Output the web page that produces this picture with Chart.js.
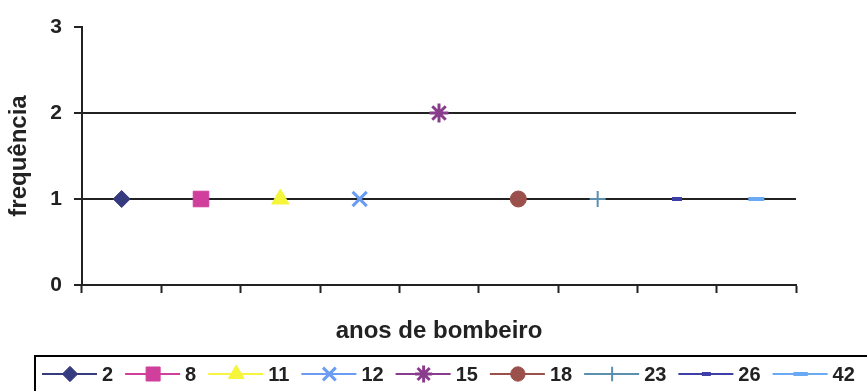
<!DOCTYPE html>
<html>
<head>
<meta charset="utf-8">
<script src="https://cdn.jsdelivr.net/npm/chart.js@4/dist/chart.umd.min.js"></script>
<style>
  html, body { margin: 0; padding: 0; background: #fff; }
  #wrap { width: 867px; height: 391px; }
</style>
</head>
<body>
<div id="wrap"><canvas id="chart" width="867" height="391"></canvas></div>
<script>
  // anos de bombeiro (uma série por valor) e frequência
  const seriesNames = ['2', '8', '11', '12', '15', '18', '23', '26', '42'];
  const frequencies = [1, 1, 1, 1, 2, 1, 1, 1, 1];
  const yTicks = [0, 1, 2, 3];

  const colors = ['#353b7e', '#d13f9c', '#f5f53c', '#6b9cf2', '#8a3c8c', '#9c504c', '#5b8fae', '#3e3ea8', '#6aaaf5'];
  const styles = ['rectRot', 'rect', 'triangle', 'crossRot', 'star', 'circle', 'cross', 'line', 'line'];
  const radii = [8.5, 11, 10, 10, 9.5, 8, 8, 5, 8];
  const borderWidths = [1, 1, 1, 3, 3, 1, 2, 4, 4];

  const FONT = '"Liberation Sans", Arial, sans-serif';

  const datasets = seriesNames.map((name, i) => ({
    label: name,
    data: seriesNames.map((_, j) => (j === i ? frequencies[i] : null)),
    borderColor: colors[i],
    backgroundColor: colors[i],
    pointStyle: styles[i],
    pointRadius: radii[i],
    pointHoverRadius: radii[i],
    pointBorderWidth: borderWidths[i],
    showLine: false
  }));

  // legenda desenhada à mão: linha + marcador, numa caixa
  const boxLegend = {
    id: 'boxLegend',
    afterDraw(chart) {
      const ctx = chart.ctx;
      ctx.save();
      ctx.strokeStyle = '#000';
      ctx.lineWidth = 2;
      ctx.strokeRect(35, 356, 900, 60);
      ctx.font = 'bold 20px ' + FONT;
      ctx.textBaseline = 'middle';
      let x = 42;
      const y = 374;
      chart.data.datasets.forEach(ds => {
        ctx.strokeStyle = ds.borderColor;
        ctx.lineWidth = 2;
        ctx.beginPath();
        ctx.moveTo(x, y);
        ctx.lineTo(x + 55, y);
        ctx.stroke();
        ctx.fillStyle = ds.backgroundColor;
        ctx.lineWidth = ds.pointBorderWidth;
        Chart.helpers.drawPoint(ctx, {
          pointStyle: ds.pointStyle,
          radius: ds.pointRadius * 0.9,
          borderWidth: ds.pointBorderWidth,
          rotation: 0
        }, x + 28, y);
        ctx.fillStyle = '#222';
        ctx.fillText(ds.label, x + 60, y + 1);
        x += 60 + ctx.measureText(ds.label).width + 12;
      });
      ctx.restore();
    }
  };

  new Chart(document.getElementById('chart').getContext('2d'), {
    type: 'line',
    data: { labels: seriesNames, datasets: datasets },
    plugins: [boxLegend],
    options: {
      responsive: false,
      animation: false,
      layout: { padding: { top: 27, right: 71, left: 0, bottom: 43 } },
      plugins: { legend: { display: false }, tooltip: { enabled: false } },
      scales: {
        x: {
          type: 'category',
          offset: true,
          grid: { offset: true, drawOnChartArea: false, tickLength: 8, tickColor: '#222', tickWidth: 2 },
          border: { color: '#222', width: 2 },
          ticks: { display: false },
          title: {
            display: true,
            text: 'anos de bombeiro',
            color: '#222',
            font: { family: FONT, size: 24, weight: 'bold' },
            padding: { top: 0, bottom: 2 }
          },
          afterFit(scale) { scale.height = 63; }
        },
        y: {
          min: 0,
          max: 3,
          afterBuildTicks(scale) { scale.ticks = yTicks.map(v => ({ value: v })); },
          grid: {
            color: ctx => (ctx.tick && ctx.tick.value === 3 ? 'rgba(0,0,0,0)' : '#222'),
            lineWidth: 2,
            tickLength: 8,
            tickColor: '#222',
            tickWidth: 2
          },
          border: { color: '#222', width: 2 },
          ticks: {
            color: '#222',
            padding: 12,
            font: { family: FONT, size: 21, weight: 'bold' }
          },
          title: {
            display: true,
            text: 'frequência',
            color: '#222',
            font: { family: FONT, size: 24, weight: 'bold' },
            padding: { top: 5, bottom: 0 }
          },
          afterFit(scale) { scale.width = 82; }
        }
      }
    }
  });
</script>
</body>
</html>
